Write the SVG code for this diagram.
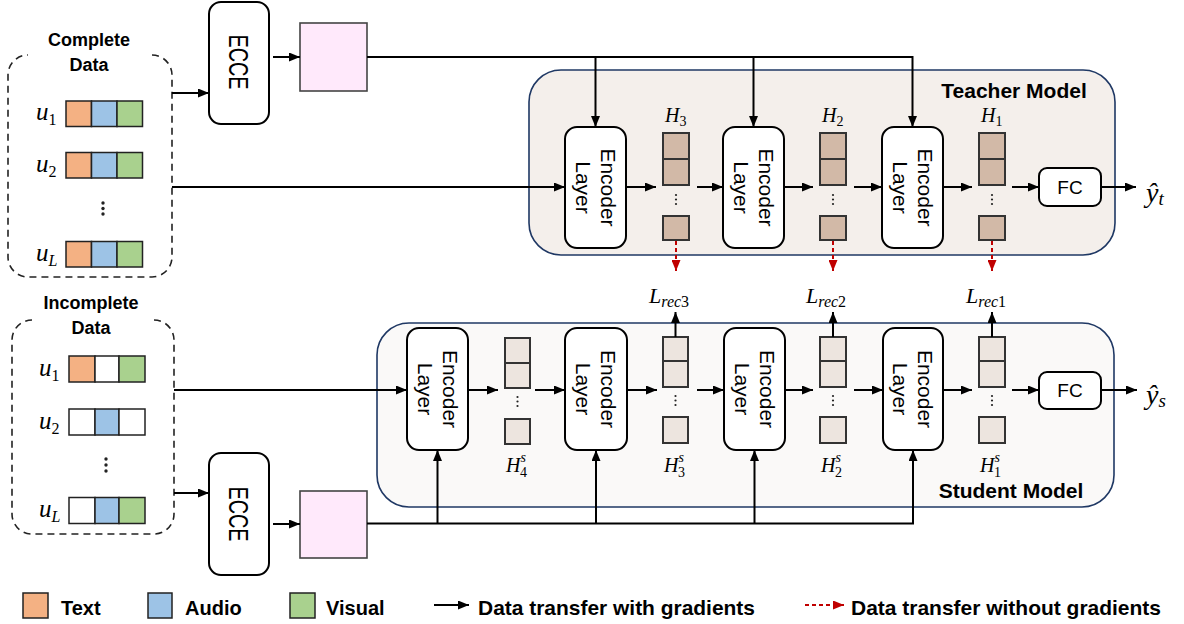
<svg xmlns="http://www.w3.org/2000/svg" width="1184" height="624" viewBox="0 0 1184 624">
<defs>
<marker id="ah" viewBox="0 0 11 9" refX="11" refY="4.5" markerWidth="11" markerHeight="9" markerUnits="userSpaceOnUse" orient="auto"><path d="M0,0 L11,4.5 L0,9 z" fill="#000"/></marker>
<marker id="ahr" viewBox="0 0 11 9" refX="11" refY="4.5" markerWidth="11" markerHeight="9" markerUnits="userSpaceOnUse" orient="auto"><path d="M0,0 L11,4.5 L0,9 z" fill="#C00000"/></marker>
<style>
.ar{stroke:#000;stroke-width:2;fill:none;marker-end:url(#ah)}
.rd{stroke:#C00000;stroke-width:2;fill:none;stroke-dasharray:4 3;marker-end:url(#ahr)}
.dash{stroke:#222;stroke-width:1.6;fill:none;stroke-dasharray:7 5}
.enc{fill:#fff;stroke:#000;stroke-width:2}
.encT{font-family:"Liberation Sans",Arial,sans-serif;font-size:21px;fill:#000}
.ecce{font-family:"Liberation Sans",Arial,sans-serif;font-size:27px;fill:#000}
.fc{font-family:"Liberation Sans",Arial,sans-serif;font-size:19px;fill:#000}
.cell{stroke:#222;stroke-width:1.5}
.o{fill:#F4B183}.b{fill:#9DC3E6}.g{fill:#A9D18E}.w{fill:#fff}
.ht{fill:#D2B9A7;stroke:#333;stroke-width:2}
.hs{fill:#EDE5DF;stroke:#333;stroke-width:2}
.pink{fill:#FFE9FB;stroke:#444;stroke-width:1.6}
.bold{font-family:"Liberation Sans",Arial,sans-serif;font-weight:bold;fill:#000}
.m{font-family:"Liberation Serif","Times New Roman",serif;font-style:italic;fill:#000}
.up{font-style:normal}
.dot{fill:#222}
</style>
</defs>

<!-- Model containers -->
<g id="teacher-model">
<rect x="529" y="70" width="586" height="185" rx="32" fill="#F4EFEB" stroke="#1F3864" stroke-width="1.6"/>
<text class="bold" x="1014" y="98" font-size="21" text-anchor="middle">Teacher Model</text>
</g>
<g id="student-model">
<rect x="377" y="323" width="737" height="184" rx="32" fill="#FAF9F8" stroke="#1F3864" stroke-width="1.6"/>
<text class="bold" x="1011" y="498" font-size="21" text-anchor="middle">Student Model</text>
</g>

<!-- Complete data -->
<g id="complete-data">
<path class="dash" d="M152,55 A20,20 0 0 1 172,75 V257 A20,20 0 0 1 152,277 H28 A20,20 0 0 1 8,257 V75 A20,20 0 0 1 28,55"/>
<text class="bold" x="89" y="46" font-size="18" text-anchor="middle">Complete</text>
<text class="bold" x="89" y="71" font-size="18" text-anchor="middle">Data</text>
<text class="m" x="36" y="120" font-size="25">u<tspan class="up" font-size="16" dy="5">1</tspan></text>
<rect class="cell o" x="66" y="101" width="25.5" height="25.5"/><rect class="cell b" x="91.5" y="101" width="25.5" height="25.5"/><rect class="cell g" x="117" y="101" width="25.5" height="25.5"/>
<text class="m" x="36" y="172" font-size="25">u<tspan class="up" font-size="16" dy="5">2</tspan></text>
<rect class="cell o" x="66" y="152.5" width="25.5" height="25.5"/><rect class="cell b" x="91.5" y="152.5" width="25.5" height="25.5"/><rect class="cell g" x="117" y="152.5" width="25.5" height="25.5"/>
<circle class="dot" cx="103" cy="203" r="1.7"/><circle class="dot" cx="103" cy="208.5" r="1.7"/><circle class="dot" cx="103" cy="214" r="1.7"/>
<text class="m" x="36" y="261" font-size="25">u<tspan font-size="16" dy="5">L</tspan></text>
<rect class="cell o" x="66" y="241.5" width="25.5" height="25.5"/><rect class="cell b" x="91.5" y="241.5" width="25.5" height="25.5"/><rect class="cell g" x="117" y="241.5" width="25.5" height="25.5"/>
</g>

<!-- Incomplete data -->
<g id="incomplete-data">
<path class="dash" d="M154,320 A20,20 0 0 1 174,340 V514 A20,20 0 0 1 154,534 H32 A20,20 0 0 1 12,514 V340 A20,20 0 0 1 32,320"/>
<text class="bold" x="91" y="309" font-size="18" text-anchor="middle">Incomplete</text>
<text class="bold" x="91" y="334" font-size="18" text-anchor="middle">Data</text>
<text class="m" x="39" y="376" font-size="25">u<tspan class="up" font-size="16" dy="5">1</tspan></text>
<rect class="cell o" x="69" y="356" width="26" height="26"/><rect class="cell w" x="95" y="356" width="24" height="26"/><rect class="cell g" x="119" y="356" width="26" height="26"/>
<text class="m" x="39" y="429" font-size="25">u<tspan class="up" font-size="16" dy="5">2</tspan></text>
<rect class="cell w" x="69" y="409" width="26" height="26"/><rect class="cell b" x="95" y="409" width="24" height="26"/><rect class="cell w" x="119" y="409" width="26" height="26"/>
<circle class="dot" cx="106" cy="459" r="1.7"/><circle class="dot" cx="106" cy="465" r="1.7"/><circle class="dot" cx="106" cy="471" r="1.7"/>
<text class="m" x="39" y="517" font-size="25">u<tspan font-size="16" dy="5">L</tspan></text>
<rect class="cell w" x="69" y="497.5" width="26" height="26"/><rect class="cell b" x="95" y="497.5" width="24" height="26"/><rect class="cell g" x="119" y="497.5" width="26" height="26"/>
</g>

<!-- ECCE + embeddings -->
<g id="ecce-top">
<rect class="enc" x="209" y="2" width="60" height="122" rx="12"/>
<text class="ecce" transform="translate(239,62) rotate(90)" text-anchor="middle" y="10" textLength="55" lengthAdjust="spacingAndGlyphs">ECCE</text>
</g>
<g id="emb-top"><rect class="pink" x="300" y="23" width="67" height="68"/></g>
<g id="ecce-bottom">
<rect class="enc" x="209" y="453" width="60" height="122" rx="12"/>
<text class="ecce" transform="translate(239,514) rotate(90)" text-anchor="middle" y="10" textLength="55" lengthAdjust="spacingAndGlyphs">ECCE</text>
</g>
<g id="emb-bottom"><rect class="pink" x="300" y="491" width="67" height="67"/></g>

<!-- Teacher encoders -->
<g id="t-enc3">
<rect class="enc" x="565" y="127" width="61" height="121" rx="12"/>
<text class="encT" transform="translate(595.5,187.5) rotate(90)" text-anchor="middle"><tspan x="0" y="-5">Encoder</tspan><tspan x="0" y="20">Layer</tspan></text>
</g>
<g id="t-enc2">
<rect class="enc" x="723" y="127" width="61" height="121" rx="12"/>
<text class="encT" transform="translate(753.5,187.5) rotate(90)" text-anchor="middle"><tspan x="0" y="-5">Encoder</tspan><tspan x="0" y="20">Layer</tspan></text>
</g>
<g id="t-enc1">
<rect class="enc" x="882" y="127" width="61" height="121" rx="12"/>
<text class="encT" transform="translate(912.5,187.5) rotate(90)" text-anchor="middle"><tspan x="0" y="-5">Encoder</tspan><tspan x="0" y="20">Layer</tspan></text>
</g>

<!-- Teacher hidden states -->
<g id="t-H3">
<text class="m" x="665" y="122" font-size="20">H<tspan class="up" font-size="14" dy="4">3</tspan></text>
<rect class="ht" x="663" y="133" width="26" height="26"/><rect class="ht" x="663" y="159" width="26" height="26"/>
<circle class="dot" cx="676" cy="195" r="1.1"/><circle class="dot" cx="676" cy="199.5" r="1.1"/><circle class="dot" cx="676" cy="204" r="1.1"/>
<rect class="ht" x="663" y="216" width="26" height="24"/>
</g>
<g id="t-H2">
<text class="m" x="822" y="122" font-size="20">H<tspan class="up" font-size="14" dy="4">2</tspan></text>
<rect class="ht" x="820" y="133" width="26" height="26"/><rect class="ht" x="820" y="159" width="26" height="26"/>
<circle class="dot" cx="833" cy="195" r="1.1"/><circle class="dot" cx="833" cy="199.5" r="1.1"/><circle class="dot" cx="833" cy="204" r="1.1"/>
<rect class="ht" x="820" y="216" width="26" height="24"/>
</g>
<g id="t-H1">
<text class="m" x="981" y="122" font-size="20">H<tspan class="up" font-size="14" dy="4">1</tspan></text>
<rect class="ht" x="979" y="133" width="26" height="26"/><rect class="ht" x="979" y="159" width="26" height="26"/>
<circle class="dot" cx="992" cy="195" r="1.1"/><circle class="dot" cx="992" cy="199.5" r="1.1"/><circle class="dot" cx="992" cy="204" r="1.1"/>
<rect class="ht" x="979" y="216" width="26" height="24"/>
</g>
<g id="t-fc">
<rect class="enc" x="1039" y="168" width="62" height="38" rx="8"/>
<text class="fc" x="1070" y="194" text-anchor="middle">FC</text>
</g>
<g id="yt"><text class="m" x="1146" y="202" font-size="28">ŷ<tspan font-size="19" dy="3">t</tspan></text></g>

<!-- Loss labels -->
<g id="L3"><text class="m" x="649" y="303" font-size="22">L<tspan font-size="16" dy="4">rec</tspan><tspan class="up" font-size="16">3</tspan></text></g>
<g id="L2"><text class="m" x="806" y="303" font-size="22">L<tspan font-size="16" dy="4">rec</tspan><tspan class="up" font-size="16">2</tspan></text></g>
<g id="L1"><text class="m" x="966" y="303" font-size="22">L<tspan font-size="16" dy="4">rec</tspan><tspan class="up" font-size="16">1</tspan></text></g>

<!-- Student encoders -->
<g id="s-enc4">
<rect class="enc" x="407" y="328" width="61" height="122" rx="12"/>
<text class="encT" transform="translate(437.5,389) rotate(90)" text-anchor="middle"><tspan x="0" y="-5">Encoder</tspan><tspan x="0" y="20">Layer</tspan></text>
</g>
<g id="s-enc3">
<rect class="enc" x="565" y="328" width="62" height="122" rx="12"/>
<text class="encT" transform="translate(596,389) rotate(90)" text-anchor="middle"><tspan x="0" y="-5">Encoder</tspan><tspan x="0" y="20">Layer</tspan></text>
</g>
<g id="s-enc2">
<rect class="enc" x="724" y="328" width="61" height="122" rx="12"/>
<text class="encT" transform="translate(754.5,389) rotate(90)" text-anchor="middle"><tspan x="0" y="-5">Encoder</tspan><tspan x="0" y="20">Layer</tspan></text>
</g>
<g id="s-enc1">
<rect class="enc" x="883" y="328" width="60" height="122" rx="12"/>
<text class="encT" transform="translate(913,389) rotate(90)" text-anchor="middle"><tspan x="0" y="-5">Encoder</tspan><tspan x="0" y="20">Layer</tspan></text>
</g>

<!-- Student hidden states -->
<g id="s-H4">
<rect class="hs" x="505" y="338" width="25" height="25"/><rect class="hs" x="505" y="363" width="25" height="25"/>
<circle class="dot" cx="517.5" cy="397" r="1.1"/><circle class="dot" cx="517.5" cy="401.5" r="1.1"/><circle class="dot" cx="517.5" cy="406" r="1.1"/>
<rect class="hs" x="505" y="419" width="25" height="25"/>
<text class="m" x="506" y="472" font-size="20">H<tspan font-size="14" dy="-10">s</tspan><tspan class="up" font-size="14" dx="-6" dy="15">4</tspan></text>
</g>
<g id="s-H3">
<rect class="hs" x="663" y="337" width="25" height="24"/><rect class="hs" x="663" y="361" width="25" height="26"/>
<circle class="dot" cx="675.5" cy="396" r="1.1"/><circle class="dot" cx="675.5" cy="400.5" r="1.1"/><circle class="dot" cx="675.5" cy="405" r="1.1"/>
<rect class="hs" x="663" y="417" width="25" height="26"/>
<text class="m" x="664" y="472" font-size="20">H<tspan font-size="14" dy="-10">s</tspan><tspan class="up" font-size="14" dx="-6" dy="15">3</tspan></text>
</g>
<g id="s-H2">
<rect class="hs" x="820" y="337" width="26" height="24"/><rect class="hs" x="820" y="361" width="26" height="26"/>
<circle class="dot" cx="833" cy="396" r="1.1"/><circle class="dot" cx="833" cy="400.5" r="1.1"/><circle class="dot" cx="833" cy="405" r="1.1"/>
<rect class="hs" x="820" y="417" width="26" height="26"/>
<text class="m" x="821" y="472" font-size="20">H<tspan font-size="14" dy="-10">s</tspan><tspan class="up" font-size="14" dx="-6" dy="15">2</tspan></text>
</g>
<g id="s-H1">
<rect class="hs" x="979" y="337" width="26" height="24"/><rect class="hs" x="979" y="361" width="26" height="26"/>
<circle class="dot" cx="992" cy="396" r="1.1"/><circle class="dot" cx="992" cy="400.5" r="1.1"/><circle class="dot" cx="992" cy="405" r="1.1"/>
<rect class="hs" x="979" y="417" width="26" height="26"/>
<text class="m" x="980" y="472" font-size="20">H<tspan font-size="14" dy="-10">s</tspan><tspan class="up" font-size="14" dx="-6" dy="15">1</tspan></text>
</g>
<g id="s-fc">
<rect class="enc" x="1039" y="372" width="62" height="37" rx="8"/>
<text class="fc" x="1070" y="397" text-anchor="middle">FC</text>
</g>
<g id="ys"><text class="m" x="1146" y="404" font-size="28">ŷ<tspan font-size="19" dy="3">s</tspan></text></g>

<!-- Connectors -->
<g id="connectors">
<line class="ar" x1="172" y1="93" x2="209" y2="93"/>
<line class="ar" x1="273" y1="57" x2="300" y2="57"/>
<path class="ar" d="M367,57 H912.5 V127"/>
<line class="ar" x1="595.5" y1="57" x2="595.5" y2="127"/>
<line class="ar" x1="753.5" y1="57" x2="753.5" y2="127"/>
<line class="ar" x1="172" y1="187" x2="565" y2="187"/>
<line class="ar" x1="626" y1="187" x2="656" y2="187"/>
<line class="ar" x1="697" y1="187" x2="723" y2="187"/>
<line class="ar" x1="784" y1="187" x2="813" y2="187"/>
<line class="ar" x1="854" y1="187" x2="882" y2="187"/>
<line class="ar" x1="943" y1="187" x2="972" y2="187"/>
<line class="ar" x1="1012" y1="187" x2="1039" y2="187"/>
<line class="ar" x1="1101" y1="187" x2="1136" y2="187"/>
<line class="rd" x1="676" y1="241" x2="676" y2="271"/>
<line class="rd" x1="833" y1="241" x2="833" y2="271"/>
<line class="rd" x1="992" y1="241" x2="992" y2="271"/>

<line class="ar" x1="174" y1="390" x2="407" y2="390"/>
<line class="ar" x1="468" y1="390" x2="498" y2="390"/>
<line class="ar" x1="535" y1="390" x2="565" y2="390"/>
<line class="ar" x1="627" y1="390" x2="657" y2="390"/>
<line class="ar" x1="697" y1="390" x2="724" y2="390"/>
<line class="ar" x1="785" y1="390" x2="813" y2="390"/>
<line class="ar" x1="854" y1="390" x2="883" y2="390"/>
<line class="ar" x1="943" y1="390" x2="972" y2="390"/>
<line class="ar" x1="1012" y1="390" x2="1039" y2="390"/>
<line class="ar" x1="1101" y1="390" x2="1137" y2="390"/>
<line class="ar" x1="675.5" y1="337" x2="675.5" y2="312"/>
<line class="ar" x1="833" y1="337" x2="833" y2="312"/>
<line class="ar" x1="992" y1="337" x2="992" y2="312"/>

<line class="ar" x1="174" y1="493" x2="209" y2="493"/>
<line class="ar" x1="273" y1="524" x2="300" y2="524"/>
<path class="ar" d="M367,523.5 H913 V450" stroke-width="2.4"/>
<line class="ar" x1="437.5" y1="523.5" x2="437.5" y2="450"/>
<line class="ar" x1="596" y1="523.5" x2="596" y2="450"/>
<line class="ar" x1="754.5" y1="523.5" x2="754.5" y2="450"/>
</g>

<!-- Legend -->
<g id="legend">
<rect class="cell o" x="23" y="593" width="25" height="25"/>
<text class="bold" x="61" y="615" font-size="20">Text</text>
<rect class="cell b" x="148" y="593" width="24" height="25"/>
<text class="bold" x="185" y="615" font-size="20">Audio</text>
<rect class="cell g" x="290" y="593" width="25" height="25"/>
<text class="bold" x="326" y="615" font-size="20">Visual</text>
<line class="ar" x1="434" y1="605" x2="469" y2="605"/>
<text class="bold" x="478" y="615" font-size="21" textLength="277" lengthAdjust="spacingAndGlyphs">Data transfer with gradients</text>
<line class="rd" x1="805" y1="605" x2="844" y2="605"/>
<text class="bold" x="851" y="615" font-size="21" textLength="310" lengthAdjust="spacingAndGlyphs">Data transfer without gradients</text>
</g>
</svg>
